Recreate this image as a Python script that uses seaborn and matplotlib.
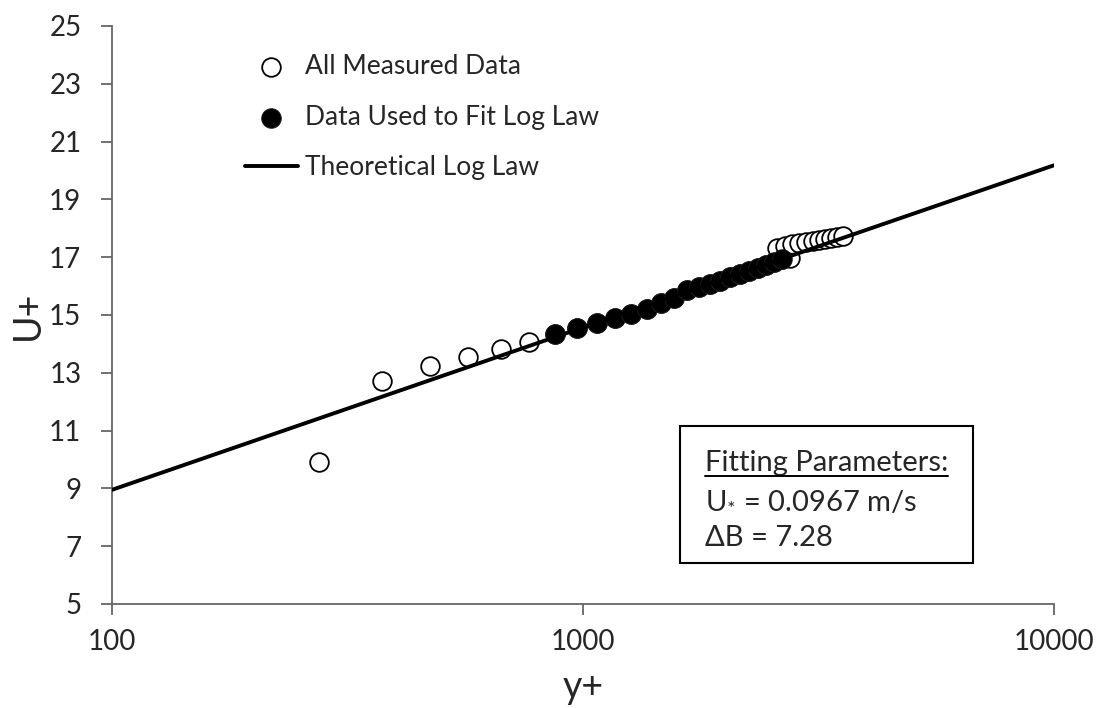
import pandas as pd
import seaborn as sns
import matplotlib.pyplot as plt
from matplotlib.patches import Rectangle
from matplotlib.ticker import FixedLocator, FixedFormatter, NullLocator

# all measured points (filled ones are also part of this set)
all_yplus = [275, 374, 473, 571, 671, 769,
             873, 972, 1070, 1169, 1267, 1366, 1464, 1563, 1662, 1760,
             1859, 1957, 2056, 2154, 2253, 2352, 2450, 2549, 2647, 2746,
             2580, 2680, 2780, 2880, 2975, 3075, 3170, 3270, 3370, 3465, 3565]
all_uplus = [9.90, 12.73, 13.24, 13.56, 13.83, 14.07,
             14.35, 14.55, 14.72, 14.88, 15.05, 15.22, 15.40, 15.60, 15.85, 15.98,
             16.08, 16.18, 16.30, 16.42, 16.52, 16.62, 16.72, 16.82, 16.95, 16.97,
             17.32, 17.40, 17.45, 17.50, 17.54, 17.57, 17.60, 17.64, 17.68, 17.71, 17.75]

# subset used for the log-law fit
fit_yplus = [873, 972, 1070, 1169, 1267, 1366, 1464, 1563, 1662, 1760,
             1859, 1957, 2056, 2154, 2253, 2352, 2450, 2549, 2647]
fit_uplus = [14.35, 14.55, 14.72, 14.88, 15.05, 15.22, 15.40, 15.60, 15.85, 15.98,
             16.08, 16.18, 16.30, 16.42, 16.52, 16.62, 16.72, 16.82, 16.95]

# theoretical log law, kappa = 0.41, B = 5.0, dB = 7.28
law_yplus = [100, 1000, 10000]
law_uplus = [8.95, 14.57, 20.18]

meas = pd.DataFrame({'y+': all_yplus, 'U+': all_uplus})
fit = pd.DataFrame({'y+': fit_yplus, 'U+': fit_uplus})
law = pd.DataFrame({'y+': law_yplus, 'U+': law_uplus})

sns.set_style('ticks')
plt.rcParams['font.family'] = ['Lato', 'DejaVu Sans']
plt.rcParams['mathtext.fontset'] = 'custom'
plt.rcParams['mathtext.rm'] = 'Lato'
plt.rcParams['mathtext.it'] = 'Lato'

fig, ax = plt.subplots(figsize=(11.04, 7.08), dpi=100)
fig.subplots_adjust(left=0.1014, right=0.9547, bottom=0.1469, top=0.9633)

sns.scatterplot(data=meas, x='y+', y='U+', marker='o', facecolor='white',
                edgecolor='black', linewidth=1.3, s=180,
                label='All Measured Data', ax=ax, zorder=2)
sns.scatterplot(data=fit, x='y+', y='U+', marker='o', color='black',
                edgecolor='#222222', linewidth=0.6, s=200,
                label='Data Used to Fit Log Law', ax=ax, zorder=3)
sns.lineplot(data=law, x='y+', y='U+', color='black', linewidth=2.8,
             label='Theoretical Log Law', ax=ax, zorder=4)

ax.set_xscale('log')
ax.set_xlim(100, 10000)
ax.set_ylim(5, 25)
ax.xaxis.set_major_locator(FixedLocator([100, 1000, 10000]))
ax.xaxis.set_major_formatter(FixedFormatter(['100', '1000', '10000']))
ax.xaxis.set_minor_locator(NullLocator())
ax.set_yticks(range(5, 26, 2))

sns.despine(ax=ax)
for s in ['left', 'bottom']:
    ax.spines[s].set_color('#666666')
    ax.spines[s].set_linewidth(1.3)
ax.tick_params(direction='out', length=8, width=1.3, color='#666666',
               labelsize=20)
ax.tick_params(axis='y', pad=14)
ax.tick_params(axis='x', pad=10)

ax.set_xlabel('y+', fontsize=27, labelpad=10)
ax.set_ylabel('U+', fontsize=27, labelpad=2)

ax.legend(loc='upper left', bbox_to_anchor=(0.141, 0.952), frameon=False,
          fontsize=19, borderpad=0, borderaxespad=0, handlelength=2.0,
          handletextpad=0.27, labelspacing=0.98)

# fitting-parameter box
ax.add_patch(Rectangle((0.603, 0.071), 0.311, 0.237, transform=ax.transAxes,
                       fill=False, edgecolor='black', linewidth=1.5, zorder=5))
title = ax.text(0.6295, 0.230, 'Fitting Parameters:', transform=ax.transAxes,
                fontsize=21, va='baseline', ha='left')
ax.text(0.6295, 0.164, 'U$_{*}$ = 0.0967 m/s', transform=ax.transAxes,
        fontsize=21, va='baseline', ha='left')
ax.text(0.6295, 0.100, '\u0394B = 7.28', transform=ax.transAxes,
        fontsize=21, va='baseline', ha='left')

fig.canvas.draw()
bb = title.get_window_extent().transformed(ax.transAxes.inverted())
ax.plot([bb.x0, bb.x1], [0.222, 0.222], transform=ax.transAxes,
        color='black', linewidth=1.4, zorder=6)

fig.savefig('out.png', dpi=100)
